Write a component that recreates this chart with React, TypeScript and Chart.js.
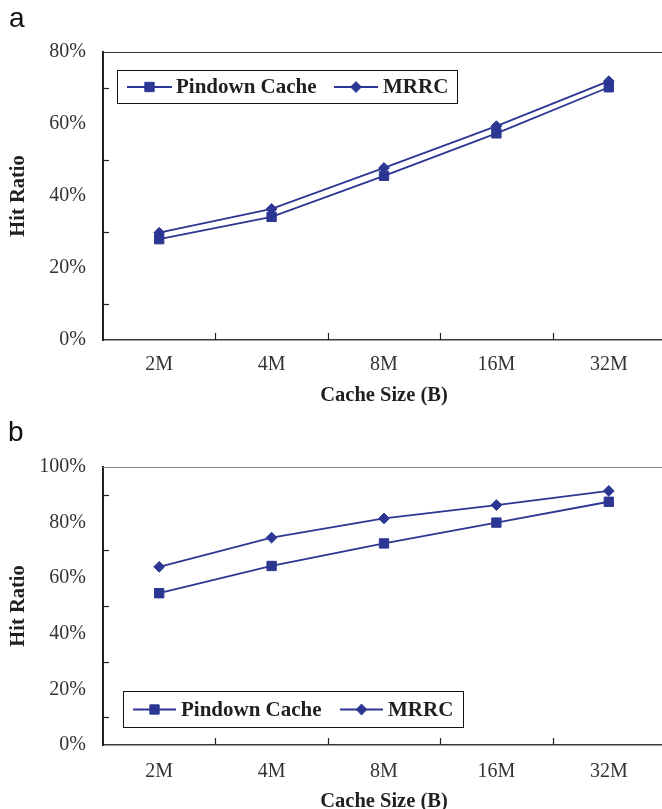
import React, { useEffect, useRef } from 'react';
import { Chart, registerables } from 'chart.js';

Chart.register(...registerables);

// ---------- data ----------
const categories = ['2M', '4M', '8M', '16M', '32M'];
const seriesNames = ['Pindown Cache', 'MRRC'];
const pindownA = [28.0, 34.2, 45.6, 57.4, 70.2];
const mrrcA = [29.8, 36.4, 47.8, 59.4, 71.9];
const pindownB = [54.6, 64.4, 72.5, 80.0, 87.5];
const mrrcB = [64.1, 74.6, 81.5, 86.3, 91.4];
const yMaxA = 80;
const yMaxB = 100;
const yStep = 20;
const xTitle = 'Cache Size (B)';
const yTitle = 'Hit Ratio';

// ---------- styles ----------
const LINE = '#2C3793';
const SERIF = "'Liberation Serif', 'Times New Roman', serif";
const TEXT = '#231f20';
const TICK = '#333333';

const decorPlugin = {
  id: 'decor',
  afterDraw(chart: any) {
    const o = chart.options.plugins.decor;
    const { ctx, chartArea } = chart;
    const xs = chart.scales.x;
    const ys = chart.scales.y;
    ctx.save();
    // top border
    ctx.strokeStyle = o.topColor;
    ctx.lineWidth = 1.2;
    ctx.beginPath();
    ctx.moveTo(chartArea.left, chartArea.top + 0.5);
    ctx.lineTo(chartArea.right, chartArea.top + 0.5);
    ctx.stroke();
    // minor y ticks (inside)
    ctx.strokeStyle = '#222';
    ctx.lineWidth = 1.2;
    for (let v = yStep / 2; v < o.max; v += yStep) {
      const y = Math.round(ys.getPixelForValue(v)) + 0.5;
      ctx.beginPath();
      ctx.moveTo(chartArea.left, y);
      ctx.lineTo(chartArea.left + 6, y);
      ctx.stroke();
    }
    // x ticks at category boundaries (inside)
    for (let i = 0; i < categories.length - 1; i++) {
      const x = Math.round((xs.getPixelForValue(i) + xs.getPixelForValue(i + 1)) / 2) + 0.5;
      ctx.beginPath();
      ctx.moveTo(x, chartArea.bottom);
      ctx.lineTo(x, chartArea.bottom - 7);
      ctx.stroke();
    }
    // legend box
    const b = o.box;
    ctx.strokeStyle = '#111';
    ctx.lineWidth = 1;
    ctx.strokeRect(b.x + 0.5, b.y + 0.5, b.w, b.h);
    const cy = b.y + b.h / 2 + 0.5;
    chart.data.datasets.forEach((ds: any, i: number) => {
      const it = o.items[i];
      ctx.strokeStyle = ds.borderColor;
      ctx.lineWidth = ds.borderWidth;
      ctx.beginPath();
      ctx.moveTo(it.x1, cy);
      ctx.lineTo(it.x2, cy);
      ctx.stroke();
      ctx.fillStyle = ds.backgroundColor;
      ctx.lineWidth = 1;
      const mx = (it.x1 + it.x2) / 2;
      ctx.beginPath();
      if (ds.pointStyle === 'rect') {
        const s = ds.pointRadius * Math.SQRT1_2;
        ctx.rect(mx - s, cy - s, 2 * s, 2 * s);
      } else {
        const r = ds.pointRadius;
        ctx.moveTo(mx - r, cy);
        ctx.lineTo(mx, cy - r);
        ctx.lineTo(mx + r, cy);
        ctx.lineTo(mx, cy + r);
        ctx.closePath();
      }
      ctx.fill();
      ctx.stroke();
      ctx.fillStyle = TEXT;
      ctx.font = `bold 21px ${SERIF}`;
      ctx.textBaseline = 'middle';
      ctx.textAlign = 'left';
      ctx.fillText(ds.label, it.tx, cy + 1);
    });
    ctx.restore();
  },
};

function makeConfig(p: any): any {
  return {
    type: 'line',
    data: {
      labels: categories,
      datasets: [
        {
          label: seriesNames[0],
          data: p.pindown,
          borderColor: LINE,
          backgroundColor: LINE,
          borderWidth: 1.8,
          pointStyle: 'rect',
          pointRadius: 6.6,
          pointBorderWidth: 1,
          pointBackgroundColor: LINE,
          pointBorderColor: LINE,
          tension: 0,
        },
        {
          label: seriesNames[1],
          data: p.mrrc,
          borderColor: LINE,
          backgroundColor: LINE,
          borderWidth: 1.8,
          pointStyle: 'rectRot',
          pointRadius: 5.4,
          pointBorderWidth: 1,
          pointBackgroundColor: LINE,
          pointBorderColor: LINE,
          tension: 0,
        },
      ],
    },
    options: {
      responsive: false,
      animation: false,
      layout: { padding: { top: p.top, right: 15, bottom: p.bottomPad, left: 0 } },
      plugins: {
        legend: { display: false },
        tooltip: { enabled: false },
        decor: { max: p.max, box: p.box, items: p.items, topColor: p.topColor },
      },
      scales: {
        x: {
          offset: true,
          grid: { display: false, drawTicks: false },
          border: { display: true, color: '#3a3a3a', width: 1.6 },
          ticks: { padding: p.xPad, color: TICK, font: { family: SERIF, size: 20 } },
          title: {
            display: true,
            text: xTitle,
            color: TEXT,
            font: { family: SERIF, size: 20.5, weight: 'bold' },
            padding: { top: 0, bottom: 0 },
          },
          afterFit: (s: any) => {
            s.height = p.xH;
          },
        },
        y: {
          min: 0,
          max: p.max,
          grid: { display: false, drawTicks: false },
          border: { display: true, color: '#222', width: 2 },
          ticks: {
            stepSize: yStep,
            padding: 17,
            color: TICK,
            font: { family: SERIF, size: 20 },
            callback: (v: any) => v + '%',
          },
          title: {
            display: true,
            text: yTitle,
            color: TEXT,
            font: { family: SERIF, size: 20.5, weight: 'bold' },
            padding: { top: 6, bottom: 0 },
          },
          afterFit: (s: any) => {
            s.width = 103;
          },
        },
      },
    },
    plugins: [decorPlugin],
  };
}

function ChartCanvas(props: { cfg: any; top: number; height: number }) {
  const ref = useRef<HTMLCanvasElement>(null);
  useEffect(() => {
    if (!ref.current) return;
    const c = new Chart(ref.current, props.cfg);
    return () => c.destroy();
  }, []);
  return (
    <canvas
      ref={ref}
      width={680}
      height={props.height}
      style={{ position: 'absolute', left: 0, top: props.top, width: 680, height: props.height }}
    />
  );
}

export default function App() {
  const cfgA = makeConfig({
    pindown: pindownA,
    mrrc: mrrcA,
    max: yMaxA,
    top: 52,
    xH: 68,
    xPad: 13,
    bottomPad: 12,
    topColor: '#333',
    box: { x: 117, y: 70, w: 340, h: 33 },
    items: [
      { x1: 127, x2: 172, tx: 176 },
      { x1: 334, x2: 378, tx: 383 },
    ],
  });
  const cfgB = makeConfig({
    pindown: pindownB,
    mrrc: mrrcB,
    max: yMaxB,
    top: 47,
    xH: 69,
    xPad: 15,
    bottomPad: 6,
    topColor: '#888',
    box: { x: 123, y: 271, w: 340, h: 36 },
    items: [
      { x1: 133, x2: 176, tx: 181 },
      { x1: 340, x2: 383, tx: 388 },
    ],
  });
  const labelStyle: any = {
    position: 'absolute',
    fontFamily: "'Liberation Sans', Arial, sans-serif",
    fontSize: 28,
    lineHeight: '28px',
    color: '#111',
  };
  return (
    <div
      style={{
        position: 'absolute',
        left: 0,
        top: 0,
        width: 662,
        height: 809,
        overflow: 'hidden',
        background: '#fff',
      }}
    >
      <ChartCanvas cfg={cfgA} top={0} height={420} />
      <ChartCanvas cfg={cfgB} top={420} height={400} />
      <div style={{ ...labelStyle, left: 9, top: 4 }}>a</div>
      <div style={{ ...labelStyle, left: 8, top: 418 }}>b</div>
    </div>
  );
}
